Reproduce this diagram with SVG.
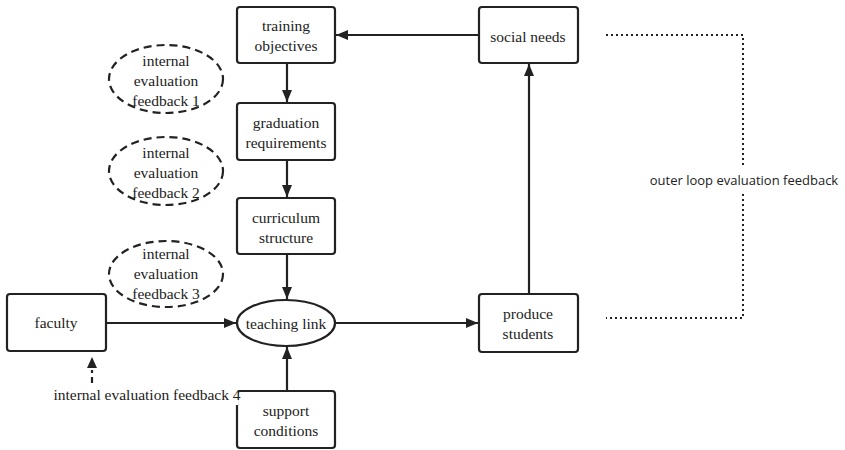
<svg xmlns="http://www.w3.org/2000/svg" width="845" height="450" viewBox="0 0 845 450">
<style>
.box{fill:#fff;stroke:#222;stroke-width:2.2}
.fb{fill:#fff;stroke:#222;stroke-width:2.2;stroke-dasharray:8,5}
.t{font-family:'Liberation Serif','DejaVu Serif',serif;font-size:15.5px;fill:#222;text-anchor:middle;dominant-baseline:central}
.s{font-family:'Open Sans','Noto Sans',sans-serif;font-size:13px;fill:#222;text-anchor:middle;dominant-baseline:central}
.ln{stroke:#222;stroke-width:2.2;fill:none}
.dot{stroke:#222;stroke-width:2;fill:none;stroke-dasharray:2,3}
</style>
<defs>
<marker id="ah" markerUnits="userSpaceOnUse" markerWidth="12" markerHeight="10" refX="12" refY="5" orient="auto">
<path d="M0,0 L12,5 L0,10 z" fill="#222"/>
</marker>
</defs>
<g id="connectors">
<line class="ln" x1="287" y1="63" x2="287" y2="102" marker-end="url(#ah)"/>
<line class="ln" x1="287" y1="160" x2="287" y2="197" marker-end="url(#ah)"/>
<line class="ln" x1="287" y1="254" x2="287" y2="299" marker-end="url(#ah)"/>
<line class="ln" x1="106" y1="323" x2="236" y2="323" marker-end="url(#ah)"/>
<line class="ln" x1="287" y1="391" x2="287" y2="347" marker-end="url(#ah)"/>
<line class="ln" x1="335" y1="323" x2="478" y2="323" marker-end="url(#ah)"/>
<line class="ln" x1="529" y1="294" x2="529" y2="64" marker-end="url(#ah)"/>
<line class="ln" x1="479" y1="35" x2="336" y2="35" marker-end="url(#ah)"/>
<line x1="92" y1="383" x2="92" y2="370" stroke="#222" stroke-width="2.2" stroke-dasharray="6,4"/>
<polygon points="92,357 87,368 97,368" fill="#222"/>
<polyline class="dot" points="606,35 743,35 743,165"/>
<polyline class="dot" points="743,194 743,318 606,318"/>
<text class="s" x="744" y="180">outer loop evaluation feedback</text>
</g>
<g id="training-objectives">
<rect class="box" x="237" y="7" width="98" height="56" rx="3"/>
<text class="t" x="286" y="25">training</text>
<text class="t" x="286" y="45">objectives</text>
</g>
<g id="graduation-requirements">
<rect class="box" x="237" y="103" width="98" height="57" rx="3"/>
<text class="t" x="286" y="122">graduation</text>
<text class="t" x="286" y="142">requirements</text>
</g>
<g id="curriculum-structure">
<rect class="box" x="237" y="198" width="98" height="56" rx="3"/>
<text class="t" x="286" y="217">curriculum</text>
<text class="t" x="286" y="237">structure</text>
</g>
<g id="feedback-1">
<ellipse class="fb" cx="166" cy="79" rx="57" ry="34"/>
<text class="t" x="166" y="60">internal</text>
<text class="t" x="166" y="80">evaluation</text>
<text class="t" x="166" y="100">feedback 1</text>
</g>
<g id="feedback-2">
<ellipse class="fb" cx="166" cy="171" rx="57" ry="34"/>
<text class="t" x="166" y="152">internal</text>
<text class="t" x="166" y="172">evaluation</text>
<text class="t" x="166" y="192">feedback 2</text>
</g>
<g id="feedback-3">
<ellipse class="fb" cx="166" cy="274" rx="57" ry="33"/>
<text class="t" x="166" y="253">internal</text>
<text class="t" x="166" y="273">evaluation</text>
<text class="t" x="166" y="293">feedback 3</text>
</g>
<g id="faculty">
<rect class="box" x="7" y="294" width="99" height="57" rx="3"/>
<text class="t" x="56" y="322">faculty</text>
</g>
<g id="teaching-link">
<ellipse class="box" cx="286" cy="323" rx="49" ry="23"/>
<text class="t" x="286" y="323">teaching link</text>
</g>
<g id="support-conditions">
<rect class="box" x="237" y="391" width="98" height="57" rx="3"/>
<text class="t" x="286" y="410">support</text>
<text class="t" x="286" y="430">conditions</text>
</g>
<g id="feedback-4">
<rect x="56" y="385" width="182" height="20" fill="#fff"/>
<text class="t" x="147" y="394">internal evaluation feedback 4</text>
</g>
<g id="produce-students">
<rect class="box" x="479" y="294" width="99" height="58" rx="3"/>
<text class="t" x="528" y="313">produce</text>
<text class="t" x="528" y="333">students</text>
</g>
<g id="social-needs">
<rect class="box" x="479" y="7" width="99" height="56" rx="3"/>
<text class="t" x="528" y="36">social needs</text>
</g>
</svg>
